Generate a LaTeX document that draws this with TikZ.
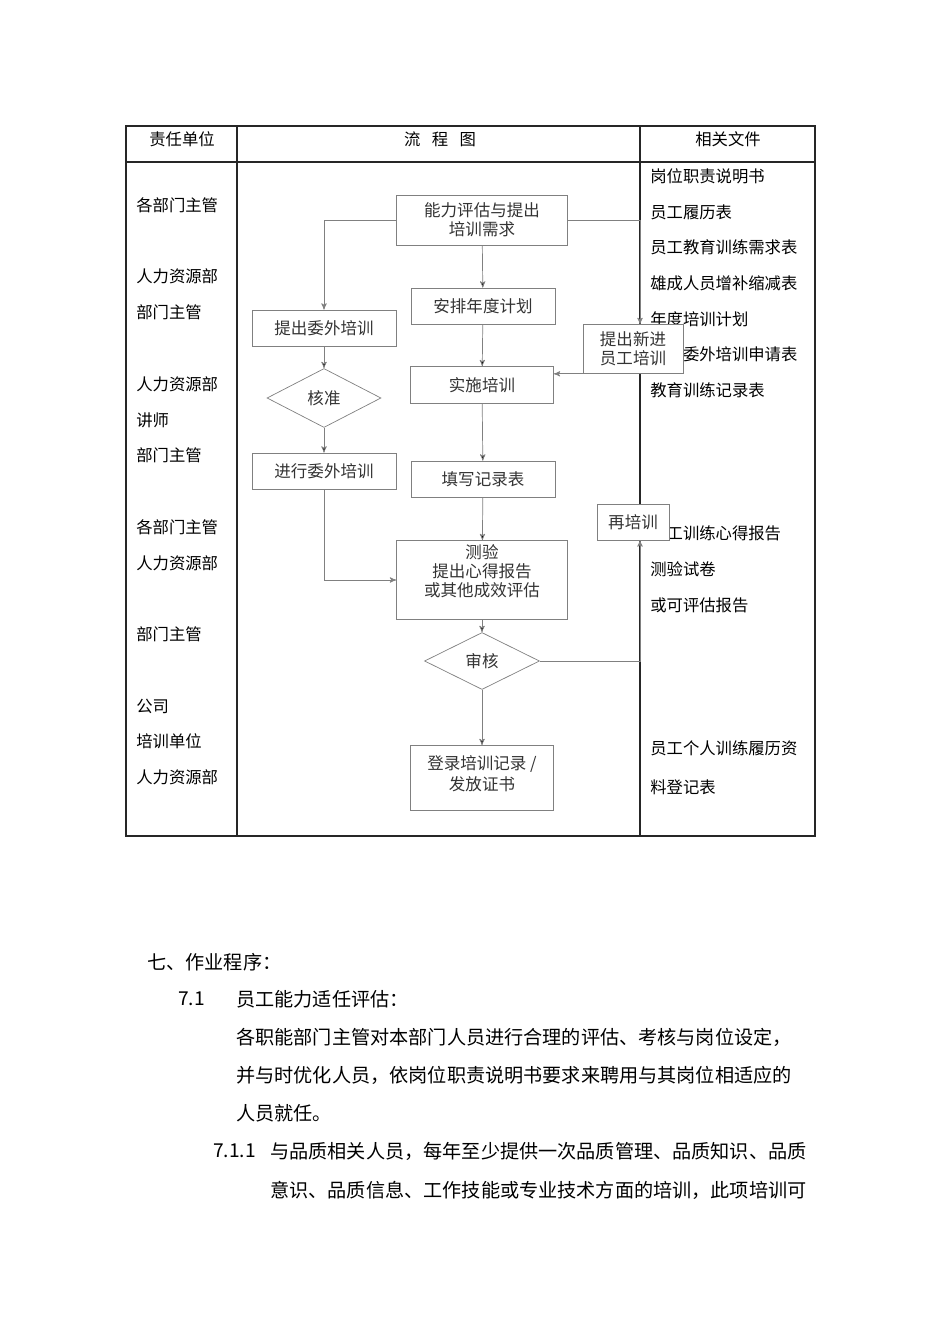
\documentclass[tikz,border=0pt]{standalone}
\usepackage{fontspec}
\setmainfont{Noto Sans CJK SC}
\usetikzlibrary{arrows,shapes.geometric}

\begin{document}
\begin{tikzpicture}[x=0.02cm,y=-0.02cm,->,>=stealth',thin]
      \tikzstyle{proc}=[draw=gray,fill=white,inner sep=0pt,align=center,text=black!80,font=\fontsize{9.4}{10.8}\selectfont]
      \tikzstyle{check}=[proc,diamond,aspect=2]
      \tikzstyle{unit}=[anchor=west,inner sep=0pt,font=\fontsize{9.3}{11}\selectfont]
      \tikzstyle{body}=[anchor=west,inner sep=0pt,font=\fontsize{10.9}{13}\selectfont]
      \tikzstyle{grid}=[-,line width=0.6pt,draw=black!85]

      \useasboundingbox (0,0) rectangle (950,1344);

      % table
      \draw[grid] (126,126) rectangle (815,836);
      \draw[grid] (126,162) -- (815,162);
      \draw[grid] (237,126) -- (237,836);
      \draw[grid] (640,126) -- (640,836);
      \coordinate (colB) at (640,126);

      \node[unit,anchor=center] (h1) at (182,139) {责任单位};
      \node[unit,anchor=center] (h2) at (440,139) {流\hspace{6.5pt}程\hspace{6.5pt}图};
      \node[unit,anchor=center] (h3) at (728,139) {相关文件};

      % left column
      \node[unit] (u1) at (136,205) {各部门主管};
      \node[unit] (u2) at (136,276) {人力资源部};
      \node[unit] (u3) at (136,312) {部门主管};
      \node[unit] (u4) at (136,384) {人力资源部};
      \node[unit] (u5) at (136,420) {讲师};
      \node[unit] (u6) at (136,455) {部门主管};
      \node[unit] (u7) at (136,527) {各部门主管};
      \node[unit] (u8) at (136,563) {人力资源部};
      \node[unit] (u9) at (136,634) {部门主管};
      \node[unit] (u10) at (136,706) {公司};
      \node[unit] (u11) at (136,741) {培训单位};
      \node[unit] (u12) at (136,777) {人力资源部};

      % right column
      \node[unit] (d1) at (650,176) {岗位职责说明书};
      \node[unit] (d2) at (650,212) {员工履历表};
      \node[unit] (d3) at (650,247) {员工教育训练需求表};
      \node[unit] (d4) at (650,283) {雄成人员增补缩减表};
      \node[unit] (d5) at (650,319) {年度培训计划};
      \node[unit] (d6) at (650,354) {员工委外培训申请表};
      \node[unit] (d7) at (650,390) {教育训练记录表};
      \node[unit] (d8) at (650,533) {员工训练心得报告};
      \node[unit] (d9) at (650,569) {测验试卷};
      \node[unit] (d10) at (650,605) {或可评估报告};
      \node[unit] (d11) at (650,748) {员工个人训练履历资};
      \node[unit] (d12) at (650,787) {料登记表};

      % flow
      \node[proc,minimum width=3.42cm,minimum height=1.0cm] (n1) at (482,220) {能力评估与提出\\培训需求};
      \node[proc,minimum width=2.88cm,minimum height=0.72cm] (n2) at (483,306) {安排年度计划};
      \node[proc,minimum width=2.88cm,minimum height=0.72cm] (n3) at (324,328) {提出委外培训};
      \node[check,minimum width=2.28cm,minimum height=1.18cm] (n4) at (324,398) {核准};
      \node[proc,minimum width=2.88cm,minimum height=0.72cm] (n5) at (324,471) {进行委外培训};
      \node[proc,minimum width=2.86cm,minimum height=0.74cm] (n6) at (482,385) {实施培训};
      \node[proc,minimum width=2.88cm,minimum height=0.72cm] (n7) at (483,479) {填写记录表};
      \node[proc,minimum width=3.42cm,minimum height=1.58cm] (n8) at (482,580) {测验\\提出心得报告\\或其他成效评估\\[0pt]};
      \node[check,minimum width=2.3cm,minimum height=1.14cm] (n9) at (482,661) {审核};
      \node[proc,minimum width=2.86cm,minimum height=1.3cm] (n10) at (482,778) {登录培训记录 /\\[1pt]发放证书\\[-0.17cm]};
      \node[proc,minimum width=2.0cm,minimum height=0.98cm] (n11) at (633,349) {提出新进\\员工培训};
      \node[proc,minimum width=1.44cm,minimum height=0.72cm] (n12) at (633,522) {再培训};

      \path[draw=gray] (n1.west) -| (n3.north);
      \path[draw=gray] (n1.east) -| (n11.north -| colB);
      \path[draw=gray] (n1) edge (n2);
      \path[draw=gray] (n2) edge (n6);
      \path[draw=gray] (n3) edge (n4);
      \path[draw=gray] (n4) edge (n5);
      \path[draw=gray] (n6) edge (n7);
      \path[draw=gray] (n7) edge (n8);
      \path[draw=gray] (n8) edge (n9);
      \path[draw=gray] (n9) edge (n10);
      \path[draw=gray] (n5.south) |- (n8.west);
      \path[draw=gray] (n9.east) -| (n12.south -| colB);
      \path[draw=gray] (n11.south west) -- (n11.south west -| n6.east);

      % text below
      \node[body] (t1) at (147,962) {七、作业程序：};
      \node[body] (t2) at (178,999) {7.1};
      \node[body] (t3) at (236,999) {员工能力适任评估：};
      \node[body] (t4) at (236,1037) {各职能部门主管对本部门人员进行合理的评估、考核与岗位设定，};
      \node[body] (t5) at (236,1075) {并与时优化人员，依岗位职责说明书要求来聘用与其岗位相适应的};
      \node[body] (t6) at (236,1113) {人员就任。};
      \node[body] (t7) at (213,1151) {7.1.1};
      \node[body] (t8) at (270,1151) {与品质相关人员，每年至少提供一次品质管理、品质知识、品质};
      \node[body] (t9) at (270,1190) {意识、品质信息、工作技能或专业技术方面的培训，此项培训可};
\end{tikzpicture}
\end{document}
